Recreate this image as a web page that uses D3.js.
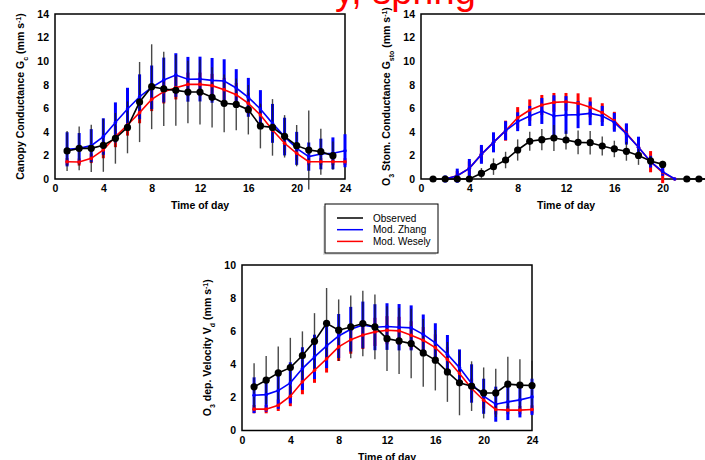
<!DOCTYPE html>
<html>
<head>
<meta charset="utf-8">
<script src="https://cdn.jsdelivr.net/npm/d3@7"></script>
<style>
body { margin: 0; background: #fff; }
svg { display: block; font-family: Arial, "Liberation Sans", sans-serif; }
</style>
</head>
<body>
<div id="chart"></div>
<script>
// Hours of the day (x categories)
const hours = [1,2,3,4,5,6,7,8,9,10,11,12,13,14,15,16,17,18,19,20,21,22,23,24];
const seriesNames = ['Observed', 'Mod. Zhang', 'Mod. Wesely'];
const seriesColors = ['#000000', '#0000ff', '#ff0000'];

// Panel 1: canopy conductance Gc (mm s-1)
const gcObs = [2.38,2.6,2.6,2.86,3.45,4.38,6.53,7.83,7.64,7.52,7.38,7.38,6.93,6.42,6.33,5.88,4.5,4.38,3.62,2.83,2.46,2.32,1.98,null];
const gcObsSd = [1.7,1.85,2.0,2.25,2.15,2.2,3.4,3.6,3.15,3.0,2.65,2.75,2.55,2.45,2.2,2.1,1.9,2.4,1.8,1.75,3.35,1.95,1.2,null];
const gcZhang = [2.52,2.6,2.83,3.6,4.8,5.94,6.98,7.78,8.4,8.82,8.46,8.48,8.37,8.31,7.72,6.93,5.94,4.72,3.6,2.6,1.9,2.12,2.18,2.4];
const gcZhangSd = [1.45,1.3,1.4,1.55,1.7,1.8,1.9,1.85,1.9,1.85,1.9,1.9,1.9,1.85,1.6,1.65,1.6,1.65,1.6,1.4,1.2,1.3,1.35,1.4];
const gcWesely = [1.47,1.44,1.75,2.46,3.6,4.58,5.63,6.76,7.41,7.75,8.03,8.03,7.92,7.58,7.15,6.42,5.43,4.16,3.03,2.18,1.47,1.47,1.47,1.47];
const gcWeselySd = [0.3,0.3,0.4,0.7,0.9,0.9,0.9,1.0,1.0,1.0,1.0,1.0,1.0,1.0,1.0,0.9,0.9,0.9,0.8,0.6,0.3,0.3,0.3,0.3];

// Panel 2: O3 stomatal conductance Gsto (mm s-1)
const gsObs = [0,0,0,0,0.48,1.05,1.61,2.46,3.2,3.34,3.48,3.31,3.11,3.08,2.8,2.55,2.35,2.0,1.53,1.24,null,0,0,0];
const gsObsSd = [0,0,0,0,0.45,0.7,0.7,0.9,0.8,0.9,1.1,0.8,1.0,1.0,0.8,0.7,0.8,0.8,0.4,0.3,null,0,0,0];
const gsZhang = [null,0,0.28,0.9,2.09,3.11,4.1,4.86,5.35,5.77,5.35,5.43,5.46,5.57,5.35,4.81,3.82,2.69,1.47,0.62,0,null,null,null];
const gsZhangSd = [null,0.3,0.6,0.8,0.8,0.85,0.8,0.8,0.85,1.1,1.75,1.6,1.15,1.0,0.85,0.8,0.9,0.9,0.5,0.35,0,null,null,null];
const gsWesely = [null,0,0.28,0.9,2.09,3.11,4.1,5.2,5.85,6.28,6.5,6.55,6.42,6.08,5.63,4.95,3.87,2.69,1.47,0.55,0,null,null,null];
const gsWeselySd = [null,0.2,0.4,0.6,0.7,0.8,0.85,0.9,0.9,0.85,0.8,0.75,0.85,0.85,0.8,0.75,0.8,0.8,0.9,0.9,0,null,null,null];

// Panel 3: O3 deposition velocity Vd (mm s-1)
const vdObs = [2.64,3.04,3.48,3.8,4.53,5.39,6.48,6.06,6.26,6.46,6.26,5.55,5.41,5.25,4.69,4.25,3.54,2.88,2.68,2.27,2.27,2.8,2.74,2.72];
const vdObsSd = [1.43,1.46,1.6,1.8,1.46,1.7,2.13,1.86,1.9,1.98,1.96,1.96,2.0,2.1,2.04,1.83,1.81,1.96,1.5,1.54,1.46,1.66,1.56,1.5];
const vdZhang = [2.13,2.17,2.41,2.88,3.74,4.45,5.11,5.71,6.12,6.38,6.24,6.28,6.24,6.2,5.81,5.29,4.61,3.8,2.84,2.07,1.59,1.73,1.85,2.03];
const vdZhangSd = [1.08,1.03,1.1,1.24,1.29,1.34,1.34,1.33,1.35,1.41,1.39,1.41,1.4,1.36,1.2,1.19,1.16,1.1,1.16,1.06,1.06,1.1,1.06,1.1];
const vdWesely = [1.29,1.29,1.53,2.07,2.94,3.64,4.33,5.05,5.49,5.77,5.96,6.06,6.02,5.75,5.45,5.01,4.29,3.44,2.54,1.83,1.27,1.23,1.23,1.27];
const vdWeselySd = [0.25,0.25,0.35,0.6,0.75,0.76,0.83,0.85,0.85,0.85,0.85,0.85,0.85,0.85,0.8,0.8,0.75,0.7,0.6,0.5,0.3,0.25,0.25,0.25];

const xTicks = [0,4,8,12,16,20,24];

const svg = d3.select('#chart').append('svg')
  .attr('width', 705).attr('height', 460);

// Cut-off red title at the very top (only its lower part shows)
svg.append('text')
  .attr('x', 335).attr('y', 4)
  .attr('fill', '#ff0000')
  .style('font-size', '38px')
  .text('y, spring');

const panels = [
  { left: 55, top: 14, width: 290, height: 165, yMax: 14, yTicks: [0,2,4,6,8,10,12,14], xTicks: xTicks,
    label: [['Canopy Conductance G'], ['c','sub'], [' (mm s'], ['-1','sup'], [')']],
    series: [[gcWesely, gcWeselySd], [gcZhang, gcZhangSd], [gcObs, gcObsSd]] },
  { left: 421, top: 14, width: 288.5, height: 165, yMax: 14, yTicks: [0,2,4,6,8,10,12,14], xTicks: [0,4,8,12,16,20],
    label: [['O'], ['3','sub'], [' Stom. Conductance G'], ['sto','sub'], [' (mm s'], ['-1','sup'], [')']],
    series: [[gsWesely, gsWeselySd], [gsZhang, gsZhangSd], [gsObs, gsObsSd]] },
  { left: 242, top: 265, width: 290, height: 165.5, yMax: 10, yTicks: [0,2,4,6,8,10], xTicks: xTicks,
    label: [['O'], ['3','sub'], [' dep. Velocity V'], ['d','sub'], [' (mm s'], ['-1','sup'], [')']],
    series: [[vdWesely, vdWeselySd], [vdZhang, vdZhangSd], [vdObs, vdObsSd]] }
];

// series order in each panel: Wesely (red), Zhang (blue), Observed (black)
const drawColors = [seriesColors[2], seriesColors[1], seriesColors[0]];
const barWidths = [3, 3, 1.4];

panels.forEach(p => {
  const g = svg.append('g').attr('transform', `translate(${p.left},${p.top})`);
  const x = d3.scaleLinear().domain([0, 24]).range([0, 290]);
  const y = d3.scaleLinear().domain([0, p.yMax]).range([p.height, 0]);

  // frame
  g.append('rect')
    .attr('width', p.width).attr('height', p.height)
    .attr('fill', 'none').attr('stroke', '#000').attr('stroke-width', 1.5);

  // axes (labels only, no tick marks)
  const yAxis = g.append('g').call(d3.axisLeft(y).tickValues(p.yTicks).tickSize(0).tickPadding(6));
  const xAxis = g.append('g').attr('transform', `translate(0,${p.height})`)
    .call(d3.axisBottom(x).tickValues(p.xTicks).tickSize(0).tickPadding(6));
  [yAxis, xAxis].forEach(a => {
    a.select('.domain').remove();
    a.selectAll('text').attr('fill', '#000')
      .style('font-size', '10.5px').style('font-weight', 'bold')
      .style('font-family', 'Arial, "Liberation Sans", sans-serif');
  });

  g.append('text')
    .attr('x', 145).attr('y', p.height + 30)
    .attr('text-anchor', 'middle')
    .style('font-size', '10.5px').style('font-weight', 'bold')
    .text('Time of day');

  const yl = g.append('text')
    .attr('transform', `translate(${-31},${p.height / 2}) rotate(-90)`)
    .attr('text-anchor', 'middle')
    .style('font-size', '10.5px').style('font-weight', 'bold');
  p.label.forEach(([t, kind]) => {
    const ts = yl.append('tspan').text(t);
    if (kind === 'sub') ts.attr('baseline-shift', 'sub').style('font-size', '7px');
    if (kind === 'sup') ts.attr('baseline-shift', 'super').style('font-size', '7px');
  });

  // error bars
  p.series.forEach(([vals, sds], si) => {
    const pts = hours.map((h, i) => ({ h, v: vals[i], sd: sds[i] }))
      .filter(d => d.v !== null && d.sd > 0);
    g.append('g').selectAll('line').data(pts).join('line')
      .attr('x1', d => x(d.h)).attr('x2', d => x(d.h))
      .attr('y1', d => y(d.v - d.sd)).attr('y2', d => y(d.v + d.sd))
      .attr('stroke', si === 2 ? '#1a1a1a' : drawColors[si])
      .attr('stroke-opacity', si === 2 ? 0.8 : 1)
      .attr('stroke-width', barWidths[si]);
  });

  // lines and markers
  p.series.forEach(([vals], si) => {
    const pts = hours.map((h, i) => ({ h, v: vals[i] }));
    const line = d3.line().defined(d => d.v !== null).x(d => x(d.h)).y(d => y(d.v));
    g.append('path').datum(pts)
      .attr('d', line).attr('fill', 'none')
      .attr('stroke', drawColors[si]).attr('stroke-width', 1.6);
    g.append('g').selectAll('circle').data(pts.filter(d => d.v !== null)).join('circle')
      .attr('cx', d => x(d.h)).attr('cy', d => y(d.v))
      .attr('r', si === 2 ? 3.6 : 1.8)
      .attr('fill', drawColors[si]);
  });
});

// legend
const legend = svg.append('g').attr('transform', 'translate(325,204)');
legend.append('rect').attr('x', -2).attr('y', 2).attr('width', 113).attr('height', 49).attr('fill', '#ddd');
legend.append('rect').attr('width', 113).attr('height', 49)
  .attr('fill', '#fff').attr('stroke', '#000').attr('stroke-width', 1);
seriesNames.forEach((name, i) => {
  const yy = 14 + i * 11.7;
  legend.append('line').attr('x1', 12).attr('x2', 38).attr('y1', yy).attr('y2', yy)
    .attr('stroke', seriesColors[i]).attr('stroke-width', 1.5);
  legend.append('text').attr('x', 48).attr('y', yy + 3.5)
    .style('font-size', '10px').text(name);
});
</script>
</body>
</html>
